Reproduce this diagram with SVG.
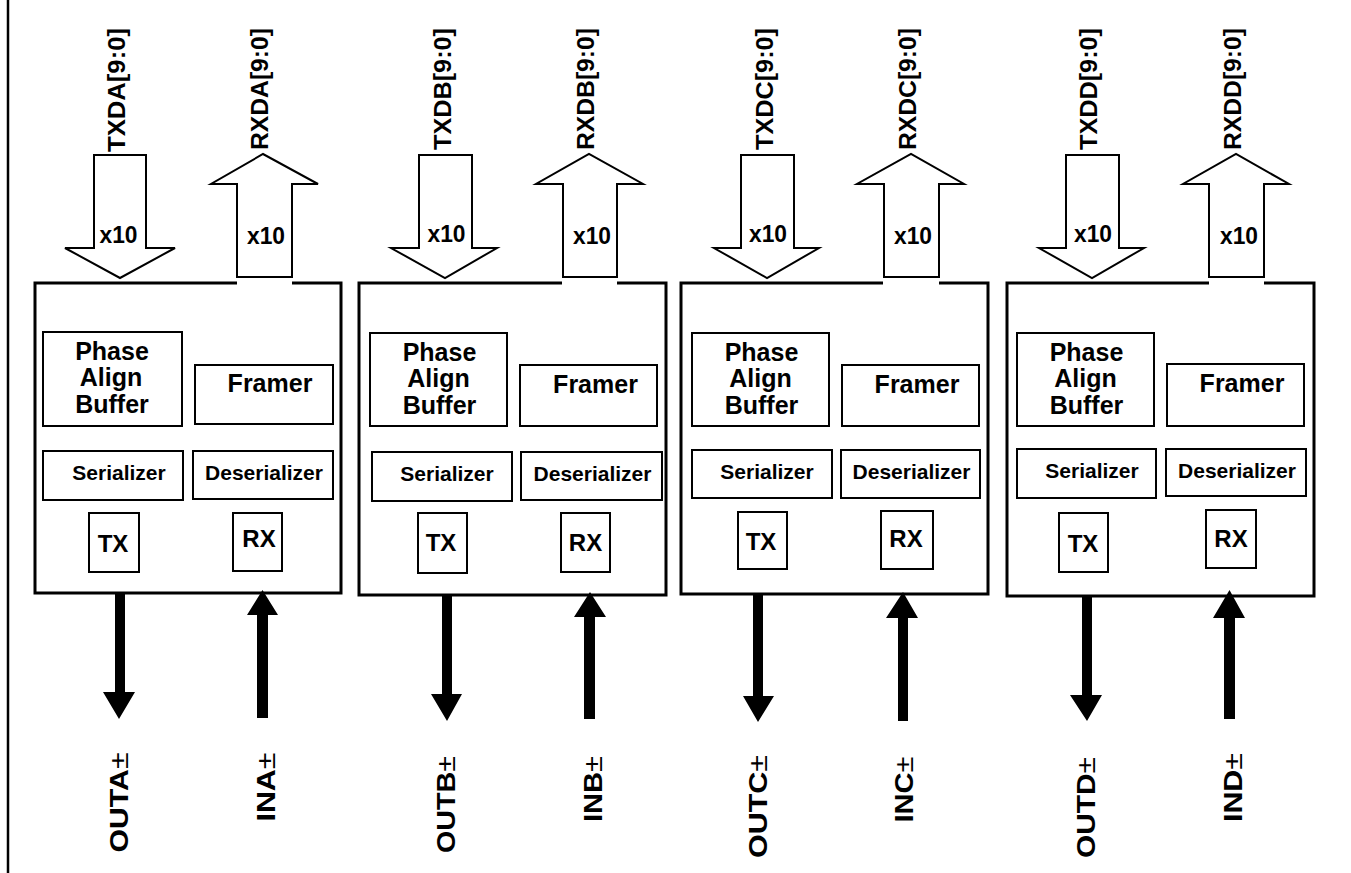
<svg xmlns="http://www.w3.org/2000/svg" width="1351" height="873" viewBox="0 0 1351 873">
<style>
  text { font-family: "Liberation Sans", Arial, sans-serif; font-weight: bold; fill: #000; }
  .frame { fill: none; stroke: #000; stroke-width: 3; }
  .box { fill: none; stroke: #000; stroke-width: 2; }
  .hollow { fill: #fff; stroke: #000; stroke-width: 2; stroke-linejoin: miter; }
  .solid { fill: #000; stroke: none; }
  .t24 { font-size: 24px; text-anchor: middle; }
  .t25 { font-size: 25px; text-anchor: middle; }
  .t21 { font-size: 21px; text-anchor: middle; }
  .bus { font-size: 24px; text-anchor: middle; }
  .x10 { font-size: 23px; text-anchor: middle; }
  .pin { font-size: 25px; text-anchor: middle; }
  .pm { font-weight: normal; }
</style>
<rect x="0" y="0" width="1351" height="873" fill="#fff"/>
<line x1="8" y1="0" x2="8" y2="873" stroke="#000" stroke-width="2.5"/>

<g id="connectors">
  <!-- top hollow arrows -->
  <polygon class="hollow" points="94,155 146,155 146,248 175,248 120,278 65,248 94,248"/>
  <polygon class="hollow" points="237,277 292,277 292,184 318,184 263,154 211,184 237,184"/>
  <polygon class="hollow" points="419,155 472,155 472,248 497,248 445,278 391,248 419,248"/>
  <polygon class="hollow" points="563,277 617,277 617,184 643,184 589,154 536,184 563,184"/>
  <polygon class="hollow" points="741,155 794,155 794,248 819,248 767,278 714,248 741,248"/>
  <polygon class="hollow" points="884,277 939,277 939,184 964,184 911,154 857,184 884,184"/>
  <polygon class="hollow" points="1066,155 1119,155 1119,248 1144,248 1092,278 1039,248 1066,248"/>
  <polygon class="hollow" points="1209,277 1264,277 1264,184 1289,184 1236,154 1183,184 1209,184"/>
  <!-- bottom solid arrows -->
  <polygon class="solid" points="115,594 125,594 125,692 135,692 119,719 103,692 115,692"/>
  <polygon class="solid" points="257,718 268,718 268,615 278,615 262.5,590 247,615 257,615"/>
  <polygon class="solid" points="442,596 452,596 452,694 462,694 447,721 431,694 442,694"/>
  <polygon class="solid" points="584,719 595,719 595,617 606,617 590,592 574,617 584,617"/>
  <polygon class="solid" points="753,595 763,595 763,696 774,696 758,722 743,696 753,696"/>
  <polygon class="solid" points="898,721 908,721 908,618 918,618 903,592 886,618 898,618"/>
  <polygon class="solid" points="1082,597 1092,597 1092,695 1102,695 1087,721 1070,695 1082,695"/>
  <polygon class="solid" points="1224,719 1235,719 1235,618 1245,618 1229.5,590 1213,618 1224,618"/>
  <!-- x10 labels -->
  <text class="x10" x="118.5" y="243" textLength="38" lengthAdjust="spacingAndGlyphs">x10</text>
  <text class="x10" x="266" y="244" textLength="38" lengthAdjust="spacingAndGlyphs">x10</text>
  <text class="x10" x="446.5" y="242" textLength="38" lengthAdjust="spacingAndGlyphs">x10</text>
  <text class="x10" x="592" y="244" textLength="38" lengthAdjust="spacingAndGlyphs">x10</text>
  <text class="x10" x="768" y="242" textLength="38" lengthAdjust="spacingAndGlyphs">x10</text>
  <text class="x10" x="913" y="244" textLength="38" lengthAdjust="spacingAndGlyphs">x10</text>
  <text class="x10" x="1093" y="242" textLength="38" lengthAdjust="spacingAndGlyphs">x10</text>
  <text class="x10" x="1239" y="244" textLength="38" lengthAdjust="spacingAndGlyphs">x10</text>
</g>

<g id="bus-labels">
  <text class="bus" transform="translate(125,90) rotate(-90)" textLength="124" lengthAdjust="spacingAndGlyphs">TXDA[9:0]</text>
  <text class="bus" transform="translate(268,89) rotate(-90)" textLength="122" lengthAdjust="spacingAndGlyphs">RXDA[9:0]</text>
  <text class="bus" transform="translate(451,89) rotate(-90)" textLength="122" lengthAdjust="spacingAndGlyphs">TXDB[9:0]</text>
  <text class="bus" transform="translate(594,89) rotate(-90)" textLength="122" lengthAdjust="spacingAndGlyphs">RXDB[9:0]</text>
  <text class="bus" transform="translate(773,89) rotate(-90)" textLength="122" lengthAdjust="spacingAndGlyphs">TXDC[9:0]</text>
  <text class="bus" transform="translate(916,89) rotate(-90)" textLength="122" lengthAdjust="spacingAndGlyphs">RXDC[9:0]</text>
  <text class="bus" transform="translate(1097,89) rotate(-90)" textLength="122" lengthAdjust="spacingAndGlyphs">TXDD[9:0]</text>
  <text class="bus" transform="translate(1241,89) rotate(-90)" textLength="122" lengthAdjust="spacingAndGlyphs">RXDD[9:0]</text>
</g>

<g id="pin-labels">
  <text class="pin" transform="translate(128,802.5) rotate(-90)" textLength="100" lengthAdjust="spacingAndGlyphs">OUTA<tspan class="pm">±</tspan></text>
  <text class="pin" transform="translate(275,787) rotate(-90)" textLength="69" lengthAdjust="spacingAndGlyphs">INA<tspan class="pm">±</tspan></text>
  <text class="pin" transform="translate(455,804.5) rotate(-90)" textLength="97" lengthAdjust="spacingAndGlyphs">OUTB<tspan class="pm">±</tspan></text>
  <text class="pin" transform="translate(602,789) rotate(-90)" textLength="66" lengthAdjust="spacingAndGlyphs">INB<tspan class="pm">±</tspan></text>
  <text class="pin" transform="translate(767,806.5) rotate(-90)" textLength="103" lengthAdjust="spacingAndGlyphs">OUTC<tspan class="pm">±</tspan></text>
  <text class="pin" transform="translate(913,789.5) rotate(-90)" textLength="66" lengthAdjust="spacingAndGlyphs">INC<tspan class="pm">±</tspan></text>
  <text class="pin" transform="translate(1095,807.5) rotate(-90)" textLength="101" lengthAdjust="spacingAndGlyphs">OUTD<tspan class="pm">±</tspan></text>
  <text class="pin" transform="translate(1242,787.5) rotate(-90)" textLength="69" lengthAdjust="spacingAndGlyphs">IND<tspan class="pm">±</tspan></text>
</g>

<g id="block-A">
  <path class="frame" d="M292,283 H341 V593 H35 V283 H237"/>
  <g id="A-pab"><rect class="box" x="43" y="332" width="139" height="94"/>
    <text class="t25" x="112" y="360">Phase</text><text class="t25" x="111" y="386">Align</text><text class="t25" x="112" y="413">Buffer</text></g>
  <g id="A-framer"><rect class="box" x="195" y="365" width="138" height="59"/><text class="t25" x="270" y="392">Framer</text></g>
  <g id="A-ser"><rect class="box" x="43" y="451" width="140" height="49"/><text class="t21" x="119" y="480">Serializer</text></g>
  <g id="A-deser"><rect class="box" x="193" y="451" width="140" height="48"/><text class="t21" x="264" y="480">Deserializer</text></g>
  <g id="A-tx"><rect class="box" x="89" y="513" width="50" height="59"/><text class="t24" x="113" y="552">TX</text></g>
  <g id="A-rx"><rect class="box" x="233" y="513" width="49" height="58"/><text class="t24" x="259" y="547">RX</text></g>
</g>

<g id="block-B">
  <path class="frame" d="M617,283 H666 V595 H359 V283 H562"/>
  <g id="B-pab"><rect class="box" x="370" y="333" width="137" height="93"/>
    <text class="t25" x="439.5" y="361">Phase</text><text class="t25" x="438.5" y="387">Align</text><text class="t25" x="439.5" y="414">Buffer</text></g>
  <g id="B-framer"><rect class="box" x="520" y="365" width="137" height="61"/><text class="t25" x="595.5" y="393">Framer</text></g>
  <g id="B-ser"><rect class="box" x="372" y="452" width="140" height="49"/><text class="t21" x="447" y="481">Serializer</text></g>
  <g id="B-deser"><rect class="box" x="521" y="452" width="141" height="48"/><text class="t21" x="592.5" y="481">Deserializer</text></g>
  <g id="B-tx"><rect class="box" x="418" y="513" width="49" height="60"/><text class="t24" x="441" y="551">TX</text></g>
  <g id="B-rx"><rect class="box" x="561" y="513" width="49" height="59"/><text class="t24" x="585.5" y="551">RX</text></g>
</g>

<g id="block-C">
  <path class="frame" d="M939,283 H988 V594 H681 V283 H883"/>
  <g id="C-pab"><rect class="box" x="692" y="333" width="137" height="93"/>
    <text class="t25" x="761.5" y="361">Phase</text><text class="t25" x="760.5" y="387">Align</text><text class="t25" x="761.5" y="414">Buffer</text></g>
  <g id="C-framer"><rect class="box" x="842" y="365" width="137" height="61"/><text class="t25" x="917" y="393">Framer</text></g>
  <g id="C-ser"><rect class="box" x="692" y="450" width="140" height="48"/><text class="t21" x="767" y="479">Serializer</text></g>
  <g id="C-deser"><rect class="box" x="841" y="450" width="139" height="48"/><text class="t21" x="911.5" y="479">Deserializer</text></g>
  <g id="C-tx"><rect class="box" x="738" y="512" width="49" height="57"/><text class="t24" x="761" y="550">TX</text></g>
  <g id="C-rx"><rect class="box" x="881" y="511" width="52" height="58"/><text class="t24" x="906" y="547">RX</text></g>
</g>

<g id="block-D">
  <path class="frame" d="M1264,283 H1314 V596 H1007 V283 H1209"/>
  <g id="D-pab"><rect class="box" x="1017" y="333" width="137" height="93"/>
    <text class="t25" x="1086.5" y="361">Phase</text><text class="t25" x="1085.5" y="387">Align</text><text class="t25" x="1086.5" y="414">Buffer</text></g>
  <g id="D-framer"><rect class="box" x="1167" y="364" width="137" height="62"/><text class="t25" x="1242" y="392">Framer</text></g>
  <g id="D-ser"><rect class="box" x="1017" y="449" width="139" height="49"/><text class="t21" x="1092" y="478">Serializer</text></g>
  <g id="D-deser"><rect class="box" x="1166" y="449" width="140" height="47"/><text class="t21" x="1237" y="478">Deserializer</text></g>
  <g id="D-tx"><rect class="box" x="1059" y="513" width="49" height="59"/><text class="t24" x="1083" y="552">TX</text></g>
  <g id="D-rx"><rect class="box" x="1206" y="510" width="50" height="58"/><text class="t24" x="1231" y="547">RX</text></g>
</g>
</svg>
